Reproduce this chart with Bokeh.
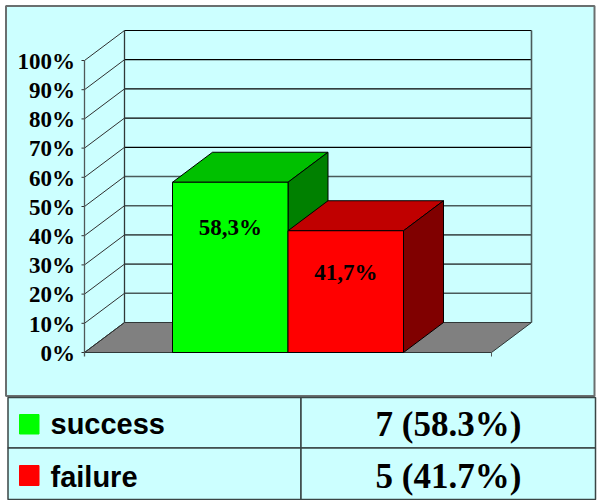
from bokeh.plotting import figure
from bokeh.models import Range1d
from bokeh.core.properties import value
from bokeh.embed import file_html
from bokeh.resources import INLINE

categories = ["success", "failure"]
percents = [58.3, 41.7]
counts = [7, 5]
bar_labels = ["58,3%", "41,7%"]
table_values = ["7 (58.3%)", "5 (41.7%)"]
label_levels = [42.8, 27.4]
tick_values = [0, 10, 20, 30, 40, 50, 60, 70, 80, 90, 100]
tick_labels = [f"{t}%" for t in tick_values]
front_colors = ["#00FF00", "#FF0000"]
top_colors = ["#00C000", "#C00000"]
side_colors = ["#008000", "#800000"]

W, H = 600, 500
X0, Y0 = 84, 352          # picture pixel of the axis origin
PX_PER_BAR = 115.5
PX_PER_PCT = 2.92
DX = 40 / PX_PER_BAR      # 3D depth in data units
DY = 30 / PX_PER_PCT
X_END = (491 - X0) / PX_PER_BAR
BAR_START = (172 - X0) / PX_PER_BAR


def xd(px):
    return (px - X0) / PX_PER_BAR


def yd(py):
    return (Y0 - py) / PX_PER_PCT


p = figure(width=W, height=H, output_backend="svg", toolbar_location=None,
           x_range=Range1d(xd(0), xd(W)),
           y_range=Range1d(yd(H), yd(0)),
           min_border=0, min_border_left=0, min_border_right=0,
           min_border_top=0, min_border_bottom=0)
p.axis.visible = False
p.grid.visible = False
p.outline_line_color = None
p.background_fill_color = "white"
p.border_fill_color = "white"

BG = "#CCFFFF"
EDGE = "#6A6F6F"


def box(x1, y1, x2, y2, fill=BG, line=EDGE, w=1.5):
    p.patch([xd(x1), xd(x2), xd(x2), xd(x1)], [yd(y1), yd(y1), yd(y2), yd(y2)],
            fill_color=fill, line_color=line, line_width=w)


# chart panel
box(5.5, 5.5, 594, 395.5, w=2)

# floor
p.patch([0, X_END, X_END + DX, DX], [0, 0, DY, DY],
        fill_color="#808080", line_color="#303838", line_width=1)

# walls: grid lines
for t in tick_values:
    col = "#000000" if t >= 60 else "#4A5A5A"
    wid = 1.2 if t >= 60 else 1.6
    if t > 0:
        p.line([DX, X_END + DX], [t + DY, t + DY], line_color=col, line_width=wid)
    p.line([0, DX], [t, t + DY], line_color="#303030", line_width=1)
    p.line([xd(81), 0], [t, t], line_color="#303030", line_width=1)

p.line([DX, DX], [DY, 100 + DY], line_color="#303838", line_width=1.3)
p.line([X_END + DX, X_END + DX], [DY, 100 + DY], line_color="#4A5A5A", line_width=1.6)
p.line([0, 0], [yd(356), 100], line_color="#505858", line_width=1.3)
p.line([X_END, X_END], [yd(356), 0], line_color="#505858", line_width=1)

# bars
for i, v in enumerate(percents):
    l = BAR_START + i
    r = BAR_START + i + 1
    p.patch([l, r, r + DX, l + DX], [v, v, v + DY, v + DY],
            fill_color=top_colors[i], line_color="black", line_width=1)
    p.patch([r, r + DX, r + DX, r], [0, DY, v + DY, v],
            fill_color=side_colors[i], line_color="black", line_width=1)
    p.patch([l, r, r, l], [0, 0, v, v],
            fill_color=front_colors[i], line_color="black", line_width=1)
    p.text([(l + r) / 2], [label_levels[i]], text=[bar_labels[i]],
           text_font=value("Liberation Serif"), text_font_style="bold",
           text_font_size="23px", text_color="black",
           text_align="center", text_baseline="middle")

# tick labels
p.text([xd(74.5)] * len(tick_values), [t - 0.3 for t in tick_values], text=tick_labels,
       text_font=value("Liberation Serif"), text_font_style="bold",
       text_font_size="23px", text_color="black",
       text_align="right", text_baseline="middle")

# table
ROW_Y = [(397, 447.5), (447.5, 499)]
for i, (y1, y2) in enumerate(ROW_Y):
    box(7.5, y1, 300.5, y2, line="#3A4545")
    box(300.5, y1, 595, y2, line="#3A4545")
    box(19, [414, 465][i], 38.5, [433.5, 485][i], fill=front_colors[i], line=front_colors[i], w=1)
    mid = [423.5, 476][i]
    p.text([xd(50)], [yd(mid)], text=[categories[i]],
           text_font=value("Liberation Sans"), text_font_style="bold",
           text_font_size="29px", text_color="black",
           text_align="left", text_baseline="middle")
    p.text([xd(448)], [yd(mid)], text=[table_values[i]],
           text_font=value("Liberation Serif"), text_font_style="bold",
           text_font_size="35px", text_color="black",
           text_align="center", text_baseline="middle")

open("out.html", "w").write(file_html(p, INLINE))
